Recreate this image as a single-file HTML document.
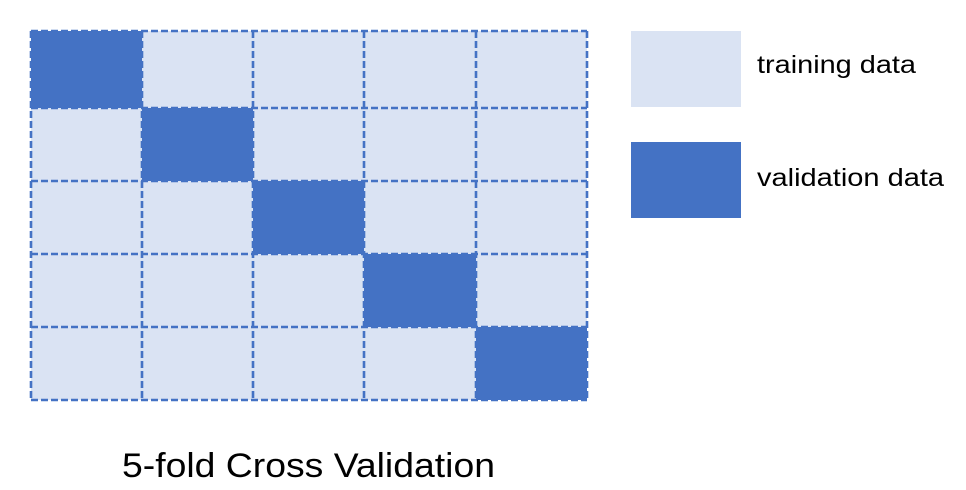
<!DOCTYPE html>
<html><head><meta charset="utf-8"><style>
body{margin:0;background:#fff;}
svg{display:block;font-family:"Liberation Sans",Arial,sans-serif;}
</style></head><body>
<svg id="chart" width="966" height="490">
<g id="cells"></g>
<g id="lines"></g>
<rect x="631" y="31" width="110" height="76" fill="#DAE3F3"/>
<text x="757" y="73" font-size="25" textLength="159" lengthAdjust="spacingAndGlyphs" fill="#000">training data</text>
<rect x="631" y="142" width="110" height="76" fill="#4472C4"/>
<text x="757" y="186" font-size="25" textLength="187" lengthAdjust="spacingAndGlyphs" fill="#000">validation data</text>
<text x="122" y="477" font-size="34" textLength="373" lengthAdjust="spacingAndGlyphs" fill="#000">5-fold Cross Validation</text>
</svg>
<script>
const folds = ["fold-1","fold-2","fold-3","fold-4","fold-5"];
const splits = ["split-1","split-2","split-3","split-4","split-5"];
const validationIndex = [0,1,2,3,4];
const colEdges = [31,142,253,364,476,587];
const rowEdges = [31,108,181,254,327,400];
const NS="http://www.w3.org/2000/svg";
const cells=document.getElementById('cells'), lines=document.getElementById('lines');
folds.forEach((f,r)=>{
  splits.forEach((s,c)=>{
    const el=document.createElementNS(NS,'rect');
    el.setAttribute('x',colEdges[c]);el.setAttribute('y',rowEdges[r]);
    el.setAttribute('width',colEdges[c+1]-colEdges[c]);el.setAttribute('height',rowEdges[r+1]-rowEdges[r]);
    const v=validationIndex[r]===c;
    el.setAttribute('fill',v?'#4472C4':'#DAE3F3');
    
    
    cells.appendChild(el);
  });
});
function line(x1,y1,x2,y2,name){
  const l=document.createElementNS(NS,'line');
  l.setAttribute('x1',x1);l.setAttribute('y1',y1);l.setAttribute('x2',x2);l.setAttribute('y2',y2);
  l.setAttribute('stroke','#4472C4');l.setAttribute('stroke-width','2.6');l.setAttribute('stroke-dasharray','7 3');
  
  
  lines.appendChild(l);
}
rowEdges.forEach(y=>line(31,y,587,y,'row-line'));
colEdges.forEach(x=>line(x,31,x,400,'column-line'));
</script>
</body></html>
